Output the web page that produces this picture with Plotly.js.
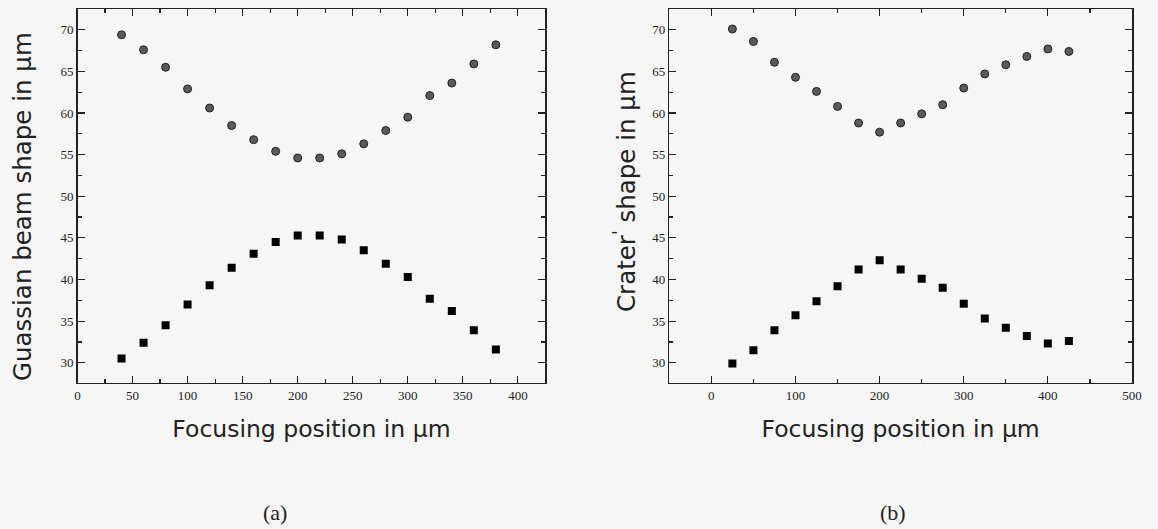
<!DOCTYPE html>
<html>
<head>
<meta charset="utf-8">
<script src="https://cdn.plot.ly/plotly-3.0.1.min.js"></script>
<style>html,body{margin:0;padding:0;background:#f6f6f6;}#chart{width:1158px;height:529px;}</style>
</head>
<body>
<div id="chart"></div>
<script>
// Panel (a): Gaussian beam shape
const xA = [40, 60, 80, 100, 120, 140, 160, 180, 200, 220, 240, 260, 280, 300, 320, 340, 360, 380];
const aCircles = [69.4, 67.6, 65.5, 62.9, 60.6, 58.5, 56.8, 55.4, 54.6, 54.6, 55.1, 56.3, 57.9, 59.5, 62.1, 63.6, 65.9, 68.2];
const aSquares = [30.5, 32.4, 34.5, 37.0, 39.3, 41.4, 43.1, 44.5, 45.3, 45.3, 44.8, 43.5, 41.9, 40.3, 37.7, 36.2, 33.9, 31.6];

// Panel (b): Crater shape
const xB = [25, 50, 75, 100, 125, 150, 175, 200, 225, 250, 275, 300, 325, 350, 375, 400, 425];
const bCircles = [70.1, 68.6, 66.1, 64.3, 62.6, 60.8, 58.8, 57.7, 58.8, 59.9, 61.0, 63.0, 64.7, 65.8, 66.8, 67.7, 67.4];
const bSquares = [29.9, 31.5, 33.9, 35.7, 37.4, 39.2, 41.2, 42.3, 41.2, 40.1, 39.0, 37.1, 35.3, 34.2, 33.2, 32.3, 32.6];

const yTitleA = "Guassian beam shape in μm";
const yTitleB = "Crater<sup>'</sup> shape in μm";
const xTitle = "Focusing position in μm";

const circleMarker = {symbol: 'circle', size: 8, color: '#5a5a5a', line: {color: '#222', width: 1}};
const squareMarker = {symbol: 'square', size: 8, color: '#000', line: {width: 0}};

const traces = [
  {x: xA, y: aCircles, mode: 'markers', type: 'scatter', marker: circleMarker, xaxis: 'x', yaxis: 'y', showlegend: false},
  {x: xA, y: aSquares, mode: 'markers', type: 'scatter', marker: squareMarker, xaxis: 'x', yaxis: 'y', showlegend: false},
  {x: xB, y: bCircles, mode: 'markers', type: 'scatter', marker: circleMarker, xaxis: 'x2', yaxis: 'y2', showlegend: false},
  {x: xB, y: bSquares, mode: 'markers', type: 'scatter', marker: squareMarker, xaxis: 'x2', yaxis: 'y2', showlegend: false}
];

const W = 1158, H = 529;
const tickFont = {family: 'Liberation Serif, Times New Roman, serif', size: 13, color: '#222'};
const titleFont = {family: 'DejaVu Sans, sans-serif', size: 23.5, color: '#222'};
const yTitleFont = {family: 'DejaVu Sans, sans-serif', size: 24.5, color: '#222'};

function axisCommon() {
  return {
    showline: true, linecolor: '#222', linewidth: 1.5, mirror: 'ticks',
    ticks: 'inside', ticklen: 7, tickwidth: 1.2, tickcolor: '#222',
    showgrid: false, zeroline: false, tickfont: tickFont
  };
}

const yDomain = [1 - 382.7 / H, 1 - 9 / H];

const layout = {
  width: W, height: H,
  margin: {l: 0, r: 0, t: 0, b: 0},
  paper_bgcolor: '#f6f6f6', plot_bgcolor: '#f6f6f6',
  showlegend: false,
  xaxis: Object.assign(axisCommon(), {
    domain: [77.5 / W, 545.4 / W], range: [0, 425], dtick: 50, tick0: 0,
    minor: {dtick: 25, ticks: 'inside', ticklen: 4, tickcolor: '#222'},
    title: {text: xTitle, font: titleFont, standoff: 19},
    anchor: 'y'
  }),
  yaxis: Object.assign(axisCommon(), {
    domain: yDomain, range: [27.6, 72.5], dtick: 5, tick0: 0,
    minor: {dtick: 2.5, ticks: 'inside', ticklen: 4, tickcolor: '#222'},
    anchor: 'x'
  }),
  xaxis2: Object.assign(axisCommon(), {
    domain: [669.3 / W, 1132 / W], range: [-50, 500], dtick: 100, tick0: 0,
    minor: {dtick: 50, ticks: 'inside', ticklen: 4, tickcolor: '#222'},
    title: {text: xTitle, font: titleFont, standoff: 19},
    anchor: 'y2'
  }),
  yaxis2: Object.assign(axisCommon(), {
    domain: yDomain, range: [27.6, 72.5], dtick: 5, tick0: 0,
    minor: {dtick: 2.5, ticks: 'inside', ticklen: 4, tickcolor: '#222'},
    anchor: 'x2'
  }),
  annotations: [
    {text: yTitleA, x: 23 / W, y: 1 - 207 / H, xref: 'paper', yref: 'paper', showarrow: false, textangle: -90,
     font: yTitleFont, xanchor: 'center', yanchor: 'middle'},
    {text: yTitleB, x: 625 / W, y: 1 - 192 / H, xref: 'paper', yref: 'paper', showarrow: false, textangle: -90,
     font: yTitleFont, xanchor: 'center', yanchor: 'middle'},
    {text: '(a)', x: 275 / W, y: 1 - 512 / H, xref: 'paper', yref: 'paper', showarrow: false,
     font: {family: 'Liberation Serif, Times New Roman, serif', size: 22, color: '#222'}, xanchor: 'center', yanchor: 'middle'},
    {text: '(b)', x: 893 / W, y: 1 - 512 / H, xref: 'paper', yref: 'paper', showarrow: false,
     font: {family: 'Liberation Serif, Times New Roman, serif', size: 22, color: '#222'}, xanchor: 'center', yanchor: 'middle'}
  ]
};

Plotly.newPlot('chart', traces, layout, {displayModeBar: false, staticPlot: true});
</script>
</body>
</html>
